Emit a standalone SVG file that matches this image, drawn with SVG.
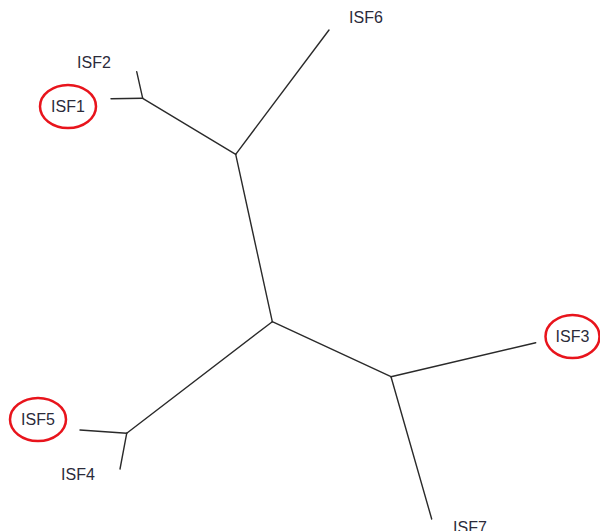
<svg xmlns="http://www.w3.org/2000/svg" width="600" height="531" viewBox="0 0 600 531">
<style>
.br{stroke:#2a2a2a;stroke-width:1.4;fill:none;stroke-linecap:round}
.lb{font-family:"Liberation Sans",Arial,sans-serif;font-size:16px;fill:#2b2b3a;text-anchor:middle}
.hl{fill:none;stroke:#e8141c;stroke-width:2.5}
</style>
<rect width="600" height="531" fill="#ffffff"/>
<g id="connectors">
<polyline class="br" points="111,98.7 142.7,98.3"/>
<polyline class="br" points="136.7,71.7 142.7,98.3"/>
<polyline class="br" points="142.7,98.3 235.7,154.3"/>
<polyline class="br" points="329,30 235.7,154.3"/>
<polyline class="br" points="235.7,154.3 272.3,321.7"/>
<polyline class="br" points="272.3,321.7 391,376.7"/>
<polyline class="br" points="391,376.7 535.7,342.7"/>
<polyline class="br" points="391,376.7 431.7,519"/>
<polyline class="br" points="272.3,321.7 126.7,433.3"/>
<polyline class="br" points="80,430 126.7,433.3"/>
<polyline class="br" points="126.7,433.3 120,469"/>
</g>
<g id="ISF1"><ellipse class="hl" cx="68" cy="106.5" rx="28" ry="21.5"/><text class="lb" x="68" y="112">ISF1</text></g>
<g id="ISF2"><text class="lb" x="94" y="68">ISF2</text></g>
<g id="ISF6"><text class="lb" x="366" y="23">ISF6</text></g>
<g id="ISF3"><ellipse class="hl" cx="572.5" cy="336.5" rx="27" ry="21.5"/><text class="lb" x="572.5" y="342">ISF3</text></g>
<g id="ISF5"><ellipse class="hl" cx="38" cy="419.5" rx="28" ry="21.5"/><text class="lb" x="38" y="425">ISF5</text></g>
<g id="ISF4"><text class="lb" x="78" y="480">ISF4</text></g>
<g id="ISF7"><text class="lb" x="470" y="533">ISF7</text></g>
</svg>
